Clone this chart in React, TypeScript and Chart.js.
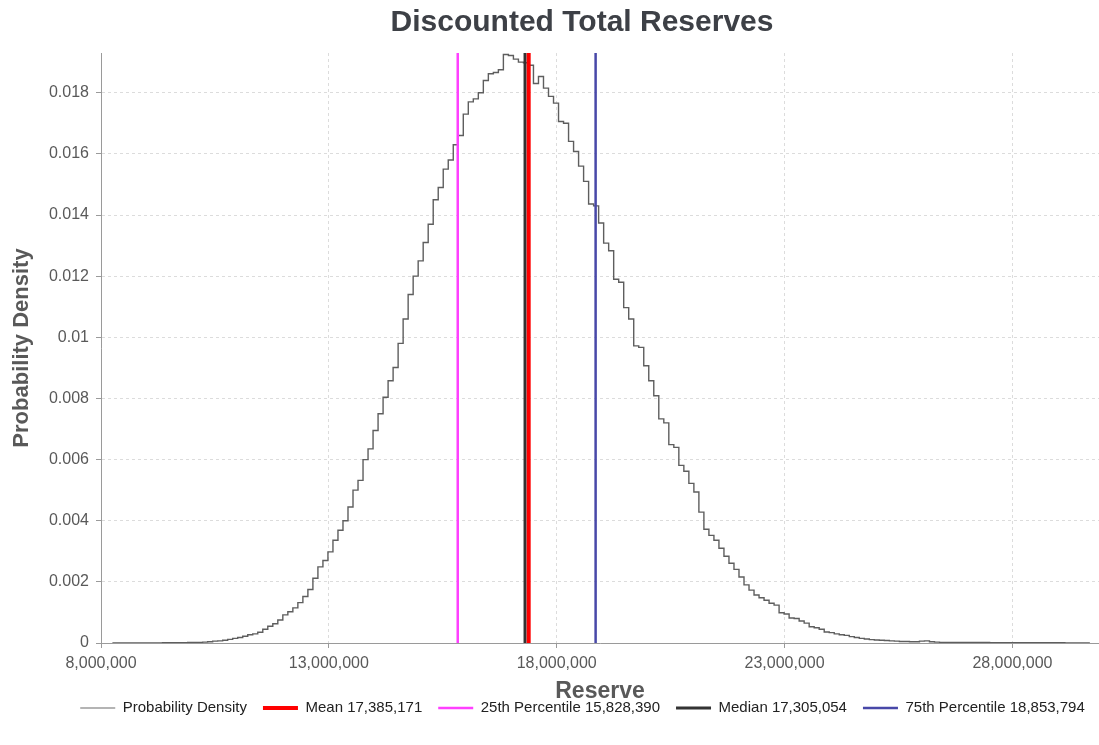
import React, { useEffect, useRef } from "react";
import { Chart, registerables } from "chart.js";

Chart.register(...registerables);

const TITLE = "Discounted Total Reserves";
const X_TITLE = "Reserve";
const Y_TITLE = "Probability Density";
const SERIES_LABEL = "Probability Density";

const X_TICKS = [8000000, 13000000, 18000000, 23000000, 28000000];
const Y_TICKS = [0, 0.002, 0.004, 0.006, 0.008, 0.01, 0.012, 0.014, 0.016, 0.018];
const X_MIN = 8000000;
const X_MAX = 29900000;
const Y_MAX = 0.0193;

// histogram bins (left edge of first bin and bin width)
const BIN_START = 8250000;
const BIN_WIDTH = 110000;

const DENSITY = [
  0.000001, 0.000001, 0.000001, 0.000001, 0.000002, 0.000002, 0.000002, 0.000003, 0.000003, 0.000004,
  0.000005, 0.000006, 0.000007, 0.000008, 0.00001, 0.000012, 0.000015, 0.00002, 0.00002, 0.00003,
  0.00004, 0.00006, 0.00007, 0.00009, 0.00012, 0.00015, 0.00018, 0.00022, 0.00027, 0.0003,
  0.00035, 0.00045, 0.00055, 0.00063, 0.00075, 0.00092, 0.00102, 0.00115, 0.00132, 0.00152,
  0.00175, 0.00212, 0.00249, 0.0027, 0.00298, 0.00336, 0.00369, 0.004, 0.00445, 0.005,
  0.00532, 0.006, 0.00635, 0.00695, 0.0075, 0.00804, 0.00858, 0.00901, 0.0098, 0.0106,
  0.0114, 0.012, 0.0125, 0.0131, 0.0137, 0.0145, 0.0149, 0.0155, 0.0158, 0.0163,
  0.0166, 0.0173, 0.0177, 0.0178, 0.018, 0.0184, 0.01862, 0.01866, 0.01875, 0.01925,
  0.01922, 0.0191, 0.019, 0.01898, 0.0189, 0.0183, 0.01853, 0.01815, 0.01788, 0.01766,
  0.01706, 0.017, 0.01641, 0.01608, 0.0156, 0.0151, 0.01436, 0.0143, 0.01374, 0.01308,
  0.01283, 0.0119, 0.0118, 0.01097, 0.0106, 0.00972, 0.00967, 0.00907, 0.00858, 0.00809,
  0.00733, 0.0072, 0.00649, 0.0064, 0.00581, 0.00562, 0.00522, 0.00494, 0.00428, 0.00372,
  0.00352, 0.00336, 0.0031, 0.00284, 0.00261, 0.00241, 0.00216, 0.0019, 0.00173, 0.00157,
  0.00148, 0.0014, 0.0013, 0.00124, 0.00099, 0.00095, 0.00082, 0.0008, 0.00072, 0.00065,
  0.00053, 0.0005, 0.00045, 0.00036, 0.00034, 0.0003, 0.00027, 0.00025, 0.00021, 0.00018,
  0.00015, 0.00013, 0.00011, 0.0001, 0.00009, 0.00008, 0.00007, 0.00006, 0.00005, 0.00005,
  0.00004, 0.00004, 0.00006, 0.00007, 0.00004, 0.00003, 0.00002, 0.00002, 0.00002, 0.00002,
  0.00002, 0.00002, 0.00002, 0.00002, 0.00002, 0.00002, 0.00001, 0.00001, 0.00001, 0.00001,
  0.00001, 0.00001, 0.00001, 0.00001, 0.00001, 0.00001, 0.00001, 0.00001, 0.00001, 0.00001,
  0.00001, 0.000005, 0.000005, 0.000005, 0.000005,
];

const MARKER_NAMES = ["Mean", "25th Percentile", "Median", "75th Percentile"];
const MARKER_VALUES = [17385171, 15828390, 17305054, 18853794];
const MARKER_COLORS = ["#ff0000", "#ff40ff", "#333333", "#4848a8"];
const MARKER_WIDTHS = [4, 2.5, 3, 2.5];
const MARKER_ORDER = [1, 3, 2, 4];

const FONT = "'Liberation Sans', Arial, sans-serif";
const fmt = (v: number) => Math.round(v).toLocaleString("en-US");

export default function App() {
  const ref = useRef<HTMLCanvasElement | null>(null);

  useEffect(() => {
    document.body.style.margin = "0";
    document.body.style.overflow = "hidden";
    const canvas = ref.current;
    if (!canvas) return;

    const histPoints = DENSITY.map((d, i) => ({ x: BIN_START + i * BIN_WIDTH, y: d }));
    histPoints.push({ x: BIN_START + DENSITY.length * BIN_WIDTH, y: DENSITY[DENSITY.length - 1] });

    const markerSets = MARKER_VALUES.map((v, i) => ({
      label: `${MARKER_NAMES[i]} ${fmt(v)}`,
      data: [
        { x: v, y: 0 },
        { x: v, y: Y_MAX },
      ],
      borderColor: MARKER_COLORS[i],
      backgroundColor: MARKER_COLORS[i],
      borderWidth: MARKER_WIDTHS[i],
      pointRadius: 0,
      order: MARKER_ORDER[i],
    }));

    const shiftPlugin = {
      id: "shiftBlocks",
      afterLayout(chart: any) {
        if (chart.legend) {
          chart.legend.left = 0;
          chart.legend.right = 1165;
        }
        if (chart.titleBlock) chart.titleBlock.left = 65;
      },
    };

    const chart = new Chart(canvas, {
      type: "line",
      data: {
        datasets: [
          {
            label: SERIES_LABEL,
            data: histPoints,
            stepped: "after",
            borderColor: "#5e5e5e",
            backgroundColor: "#5e5e5e",
            borderWidth: 1.4,
            pointRadius: 0,
            order: 10,
          } as any,
          ...markerSets,
        ],
      },
      options: {
        animation: false,
        responsive: false,
        events: [],
        layout: { padding: { left: 0, right: 0, top: 0, bottom: 19.5 } },
        plugins: {
          title: {
            display: true,
            text: TITLE,
            color: "#3d4046",
            font: { family: FONT, size: 30, weight: "bold" },
            padding: { top: 5, bottom: 12 },
          },
          legend: {
            position: "bottom",
            labels: {
              usePointStyle: true,
              pointStyle: "line",
              pointStyleWidth: 35,
              boxWidth: 35,
              padding: 16,
              color: "#222222",
              font: { family: FONT, size: 15 },
              sort: (a: any, b: any) => a.datasetIndex - b.datasetIndex,
              generateLabels: (ch: any) => {
                const items = (Chart as any).defaults.plugins.legend.labels.generateLabels(ch);
                items.forEach((it: any) => {
                  if (it.datasetIndex === 0) {
                    it.strokeStyle = "#b4b4b4";
                    it.lineWidth = 2;
                  }
                });
                return items;
              },
            },
          },
          tooltip: { enabled: false },
        },
        scales: {
          x: {
            type: "linear",
            min: X_MIN,
            max: X_MAX,
            afterBuildTicks: (axis: any) => {
              axis.ticks = X_TICKS.map((v) => ({ value: v }));
            },
            afterFit: (axis: any) => {
              axis.height = 41.5;
            },
            ticks: {
              color: "#595959",
              font: { family: FONT, size: 16 },
              padding: 6,
              maxRotation: 0,
              callback: (v: any) => fmt(Number(v)),
            },
            grid: { color: "#dcdcdc", tickLength: 5, tickColor: "#9a9a9a" },
            border: { display: true, color: "#9a9a9a", dash: [3, 3] },
            title: {
              display: true,
              text: X_TITLE,
              color: "#595959",
              font: { family: FONT, size: 23, weight: "bold" },
              padding: { top: 0, bottom: -20.5 },
            },
          },
          y: {
            type: "linear",
            min: 0,
            max: Y_MAX,
            afterBuildTicks: (axis: any) => {
              axis.ticks = Y_TICKS.map((v) => ({ value: v }));
            },
            afterFit: (axis: any) => {
              axis.width = 101;
            },
            ticks: {
              color: "#595959",
              font: { family: FONT, size: 16 },
              padding: 7,
              callback: (v: any) => String(parseFloat(Number(v).toFixed(4))),
            },
            grid: { color: "#dcdcdc", tickLength: 5, tickColor: "#9a9a9a" },
            border: { display: true, color: "#9a9a9a", dash: [3, 3] },
            title: {
              display: true,
              text: Y_TITLE,
              color: "#595959",
              font: { family: FONT, size: 22, weight: "bold" },
              padding: { top: 9, bottom: 0 },
            },
          },
        },
      } as any,
      plugins: [shiftPlugin],
    });

    return () => chart.destroy();
  }, []);

  return (
    <div style={{ width: 1099, height: 745, background: "#ffffff" }}>
      <canvas ref={ref} width={1099} height={745} style={{ display: "block" }} />
    </div>
  );
}
